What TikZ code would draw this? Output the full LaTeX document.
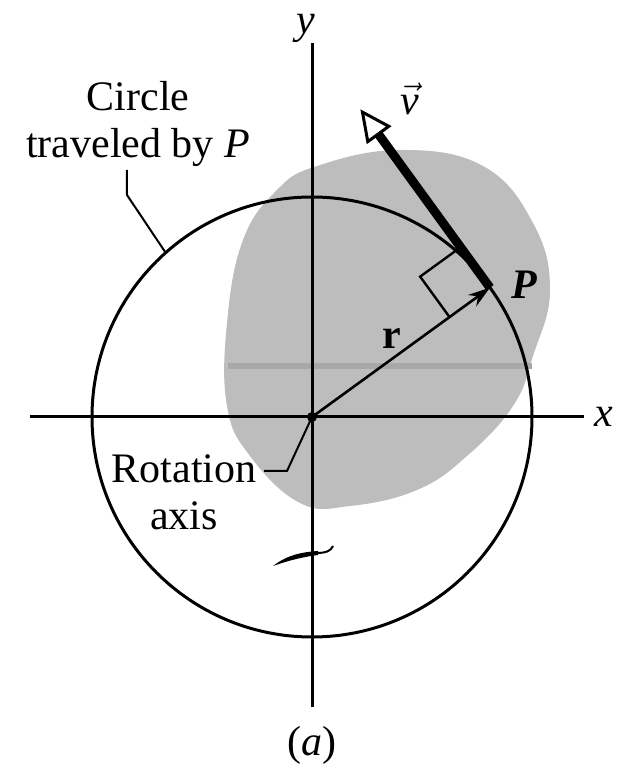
\documentclass[tikz,border=0pt]{standalone}
\usepackage{fontspec}
\setmainfont{Liberation Serif}
\usetikzlibrary{arrows.meta,calc}
\begin{document}
\begin{tikzpicture}[x=0.5pt,y=0.5pt,
  axisline/.style={line width=1.5pt},
  leader/.style={line width=1pt},
  lbl/.style={font=\fontsize{21}{23.5}\selectfont, inner sep=0pt},
  stipple/.style={fill=black!26},
]
\useasboundingbox (-312,-352) rectangle (313,417);
% stippled disk
\fill[stipple] plot[smooth cycle, tension=0.7] coordinates {
 (5,251) (88,267) (171,251) (221,194) (238,127) (221,61) (201,11)
 (155,-39) (105,-73) (38,-89) (-12,-86) (-62,-39) (-85,11) (-85,94)
 (-69,177) (-35,227)};
\fill[black!34] (-84,48) rectangle (220,54);
% coordinates
\coordinate (O) at (0,0);
\coordinate (P) at (36:220);
\coordinate (VT) at ($(P)+(126:217)$);
\coordinate (VB) at ($(VT)+(306:27)$);
\coordinate (SA) at ($(P)+(216:50)$);
\coordinate (SC) at ($(P)+(126:50)$);
\coordinate (SB) at ($(SA)+(126:50)$);
\coordinate (XL) at (-282,0);
\coordinate (XR) at (272,0);
\coordinate (YB) at (0,-290);
\coordinate (YT) at (0,374);
% circle
\draw[axisline] (O) circle (220);
% axes
\draw[axisline] (XL) -- (XR);
\draw[axisline] (YB) -- (YT);
% origin dot
\fill (O) circle (5);
% radius vector
\draw[line width=1.3pt, -{Stealth[length=11pt,width=7pt]}] (O) -- (P);
% right-angle mark
\draw[line width=1.2pt] (SA) -- (SB) -- (SC);
% velocity vector
\draw[line width=4.5pt] (P) -- (VB);
\filldraw[fill=white, line width=1.5pt, line join=miter]
  (VT) -- ($(VB)+(36:13)$) -- ($(VB)+(216:13)$) -- cycle;
% wiggle mark on the axis
\fill (-39,-149) .. controls (-25,-138) and (-10,-135) .. (6,-134)
  -- (6,-138) .. controls (-10,-140) and (-25,-144) .. cycle;
\draw[line width=1pt] (4,-136) .. controls (14,-136) and (19,-134) .. (21,-129);
% labels
\node[lbl] (ylab) at (-6,389) {\textit{y}};
\node[lbl] (xlab) at (292,0) {\textit{x}};
\node[lbl] (vlab) at (98,318) {$\vec{\mathit{v}}$};
\node[lbl] (Plab) at (212,132) {\textbf{\textit{P}}};
\node[lbl] (rlab) at (80,78) {\textbf{r}};
\node[lbl] (alab) at (0,-328) {(\textit{a})};
\node[lbl, align=center, anchor=base] (circlab) at (-174,259)
  {Circle\\traveled by \textit{P}};
\node[lbl, align=center, anchor=base] (rotlab) at (-128,-113)
  {Rotation\\axis};
% leaders
\coordinate (CL1) at (-185,247);
\coordinate (CL2) at (-185,222);
\coordinate (CL3) at (131.7:220);
\draw[leader] (CL1) -- (CL2) -- (CL3);
\coordinate (RL1) at (-48,-54);
\coordinate (RL2) at (-25,-54);
\draw[leader] (RL1) -- (RL2) -- (O);
\end{tikzpicture}
\end{document}
